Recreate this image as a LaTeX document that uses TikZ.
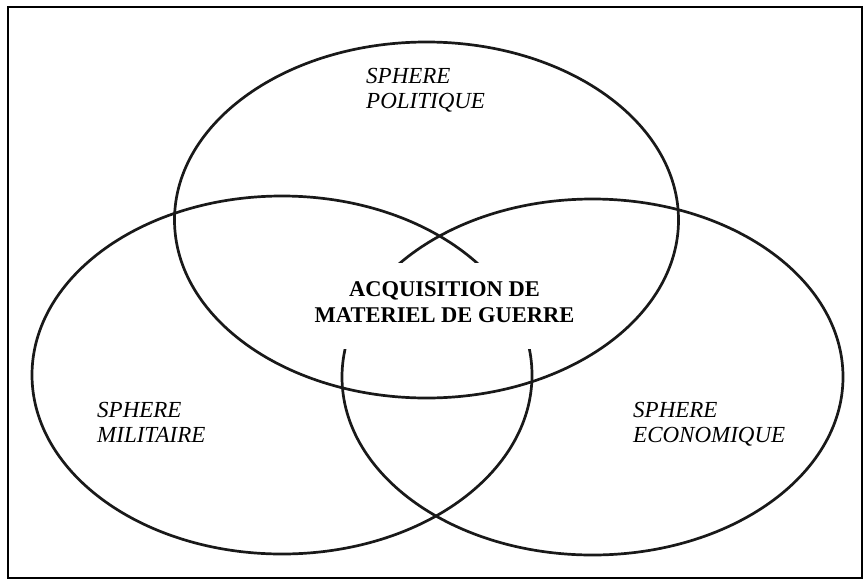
\documentclass[tikz,border=0pt]{standalone}
\usepackage{fontspec}
\setmainfont{Liberation Serif}
\begin{document}
\begin{tikzpicture}[x=1pt,y=-1pt,
  sphere/.style={line width=2.7pt, draw=black!90},
  lab/.style={inner sep=0pt, align=left, font=\itshape\fontsize{23}{25}\selectfont},
  core/.style={inner sep=0pt, align=center, font=\bfseries\fontsize{22.5}{26}\selectfont}]
\useasboundingbox (0,0) rectangle (866,581);
\draw[line width=1.3pt] (8,7) rectangle (862,578);
\draw[sphere] (426.5,220) ellipse [x radius=252pt, y radius=178pt];
\draw[sphere] (282,375) ellipse [x radius=250pt, y radius=179pt];
\draw[sphere] (592.5,377) ellipse [x radius=250.5pt, y radius=178pt];
\fill[white] (314,263) rectangle (575,349);
\node[lab, anchor=west] (pol) at (366,90.5) {SPHERE\\POLITIQUE};
\node[lab, anchor=west] (mil) at (97,422.5) {SPHERE\\MILITAIRE};
\node[lab, anchor=west] (eco) at (633,424.5) {SPHERE\\ECONOMIQUE};
\node[core] (acq) at (444.5,302) {ACQUISITION DE\\MATERIEL DE GUERRE};
\end{tikzpicture}
\end{document}
